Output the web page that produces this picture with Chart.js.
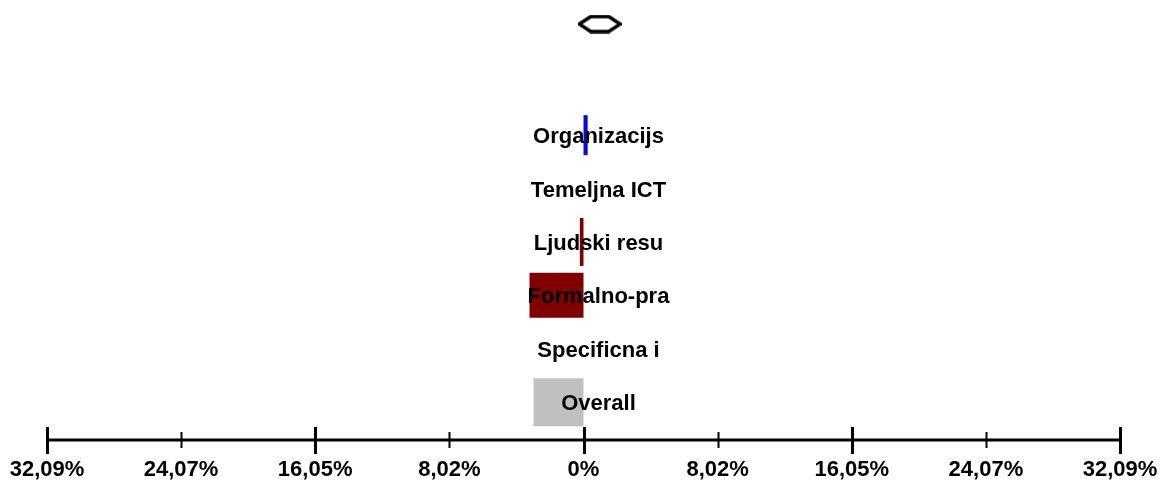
<!DOCTYPE html>
<html>
<head>
<meta charset="utf-8">
<script src="https://cdn.jsdelivr.net/npm/chart.js@4/dist/chart.umd.min.js"></script>
<style>
  html, body { margin: 0; padding: 0; background: #fff; }
  #wrap { width: 1161px; height: 480px; position: relative; }
</style>
</head>
<body>
<div id="wrap"><canvas id="chart"></canvas></div>
<script>
// ---- data ----
const categories = ["Organizacijs", "Temeljna ICT", "Ljudski resu", "Formalno-pra", "Specificna i", "Overall"];
const values = [0.25, 0, -0.22, -3.23, 0, -2.99];          // % effect per row
const summaryValue = 0.97;                                   // diamond (%)
const summaryRow = -2.08;                                    // diamond sits above the rows
const xTickValues = [-32.09, -24.07, -16.05, -8.02, 0, 8.02, 16.05, 24.07, 32.09];
const xTickLabels = ["32,09%", "24,07%", "16,05%", "8,02%", "0%", "8,02%", "16,05%", "24,07%", "32,09%"];

// ---- styles ----
const barColors = ["#0a0ad6", "#800000", "#800000", "#800000", "#c0c0c0", "#c0c0c0"];
const barHeights = [40, 46, 48, 45, 46, 48];
const FONT = "Liberation Sans, Arial, sans-serif";

// diamond marker drawn once to a small canvas
const diamond = document.createElement("canvas");
diamond.width = 44;
diamond.height = 19;
(function () {
    const c = diamond.getContext("2d");
    c.beginPath();
    c.moveTo(1.5, 9.5);
    c.lineTo(13, 2);
    c.lineTo(31, 2);
    c.lineTo(42.5, 9.5);
    c.lineTo(31, 17);
    c.lineTo(13, 17);
    c.closePath();
    c.fillStyle = "#fff";
    c.fill();
    c.lineWidth = 3.5;
    c.strokeStyle = "#000";
    c.stroke();
})();

// one dataset per row so each bar keeps its own height
const barSets = categories.map((name, i) => ({
    type: "bar",
    label: name,
    data: [{ x: values[i], y: i }],
    backgroundColor: barColors[i],
    borderWidth: 0,
    inflateAmount: 0,
    barThickness: barHeights[i],
    grouped: false
}));

// axis line with long and short ticks
const axisPlugin = {
    id: "axisLine",
    afterDatasetsDraw(chart) {
        const ctx = chart.ctx;
        const xs = chart.scales.x;
        const y = 440;
        ctx.save();
        ctx.strokeStyle = "#000";
        ctx.lineWidth = 3;
        ctx.beginPath();
        ctx.moveTo(xs.getPixelForValue(xTickValues[0]) - 1, y);
        ctx.lineTo(xs.getPixelForValue(xTickValues[xTickValues.length - 1]) + 1, y);
        ctx.stroke();
        xTickValues.forEach((v, i) => {
            const px = Math.round(xs.getPixelForValue(v)) + 0.5;
            const major = i % 2 === 0;
            ctx.lineWidth = major ? 3 : 2;
            ctx.beginPath();
            ctx.moveTo(px, major ? 427 : 432);
            ctx.lineTo(px, major ? 454 : 448);
            ctx.stroke();
        });
        ctx.restore();
    }
};

// row names written over the bars
const rowLabels = {
    id: "rowLabels",
    afterDatasetsDraw(chart) {
        const ctx = chart.ctx;
        const xs = chart.scales.x;
        const ys = chart.scales.y;
        ctx.save();
        ctx.font = "bold 22px " + FONT;
        ctx.fillStyle = "#000";
        ctx.textAlign = "center";
        ctx.textBaseline = "alphabetic";
        const cx = xs.getPixelForValue(0) + 15;
        categories.forEach((name, i) => {
            ctx.fillText(name, cx, ys.getPixelForValue(i) + 8);
        });
        ctx.restore();
    }
};

new Chart(document.getElementById("chart"), {
    type: "bar",
    data: {
        datasets: [
            ...barSets,
            {
                type: "scatter",
                label: "summary",
                data: [{ x: summaryValue, y: summaryRow }],
                pointStyle: diamond,
                pointRadius: 10
            }
        ]
    },
    options: {
        indexAxis: "y",
        responsive: true,
        maintainAspectRatio: false,
        animation: false,
        layout: { autoPadding: false, padding: { left: 47, right: 41, top: 0, bottom: 0 } },
        plugins: {
            legend: { display: false },
            tooltip: { enabled: false }
        },
        scales: {
            x: {
                type: "linear",
                offset: false,
                min: xTickValues[0],
                max: xTickValues[xTickValues.length - 1],
                afterBuildTicks: (scale) => {
                    scale.ticks = xTickValues.map(v => ({ value: v }));
                },
                afterFit: (scale) => {
                    scale.height = 41;
                    scale.paddingLeft = 0;
                    scale.paddingRight = 0;
                },
                grid: { display: false, drawTicks: false },
                border: { display: false },
                ticks: {
                    autoSkip: false,
                    maxRotation: 0,
                    padding: 18,
                    color: "#000",
                    font: { family: FONT, size: 22, weight: "bold" },
                    callback: (v, i) => xTickLabels[i]
                }
            },
            y: {
                type: "linear",
                offset: false,
                reverse: true,
                min: -2.53,
                max: 5.69,
                display: false
            }
        }
    },
    plugins: [axisPlugin, rowLabels]
});
</script>
</body>
</html>
